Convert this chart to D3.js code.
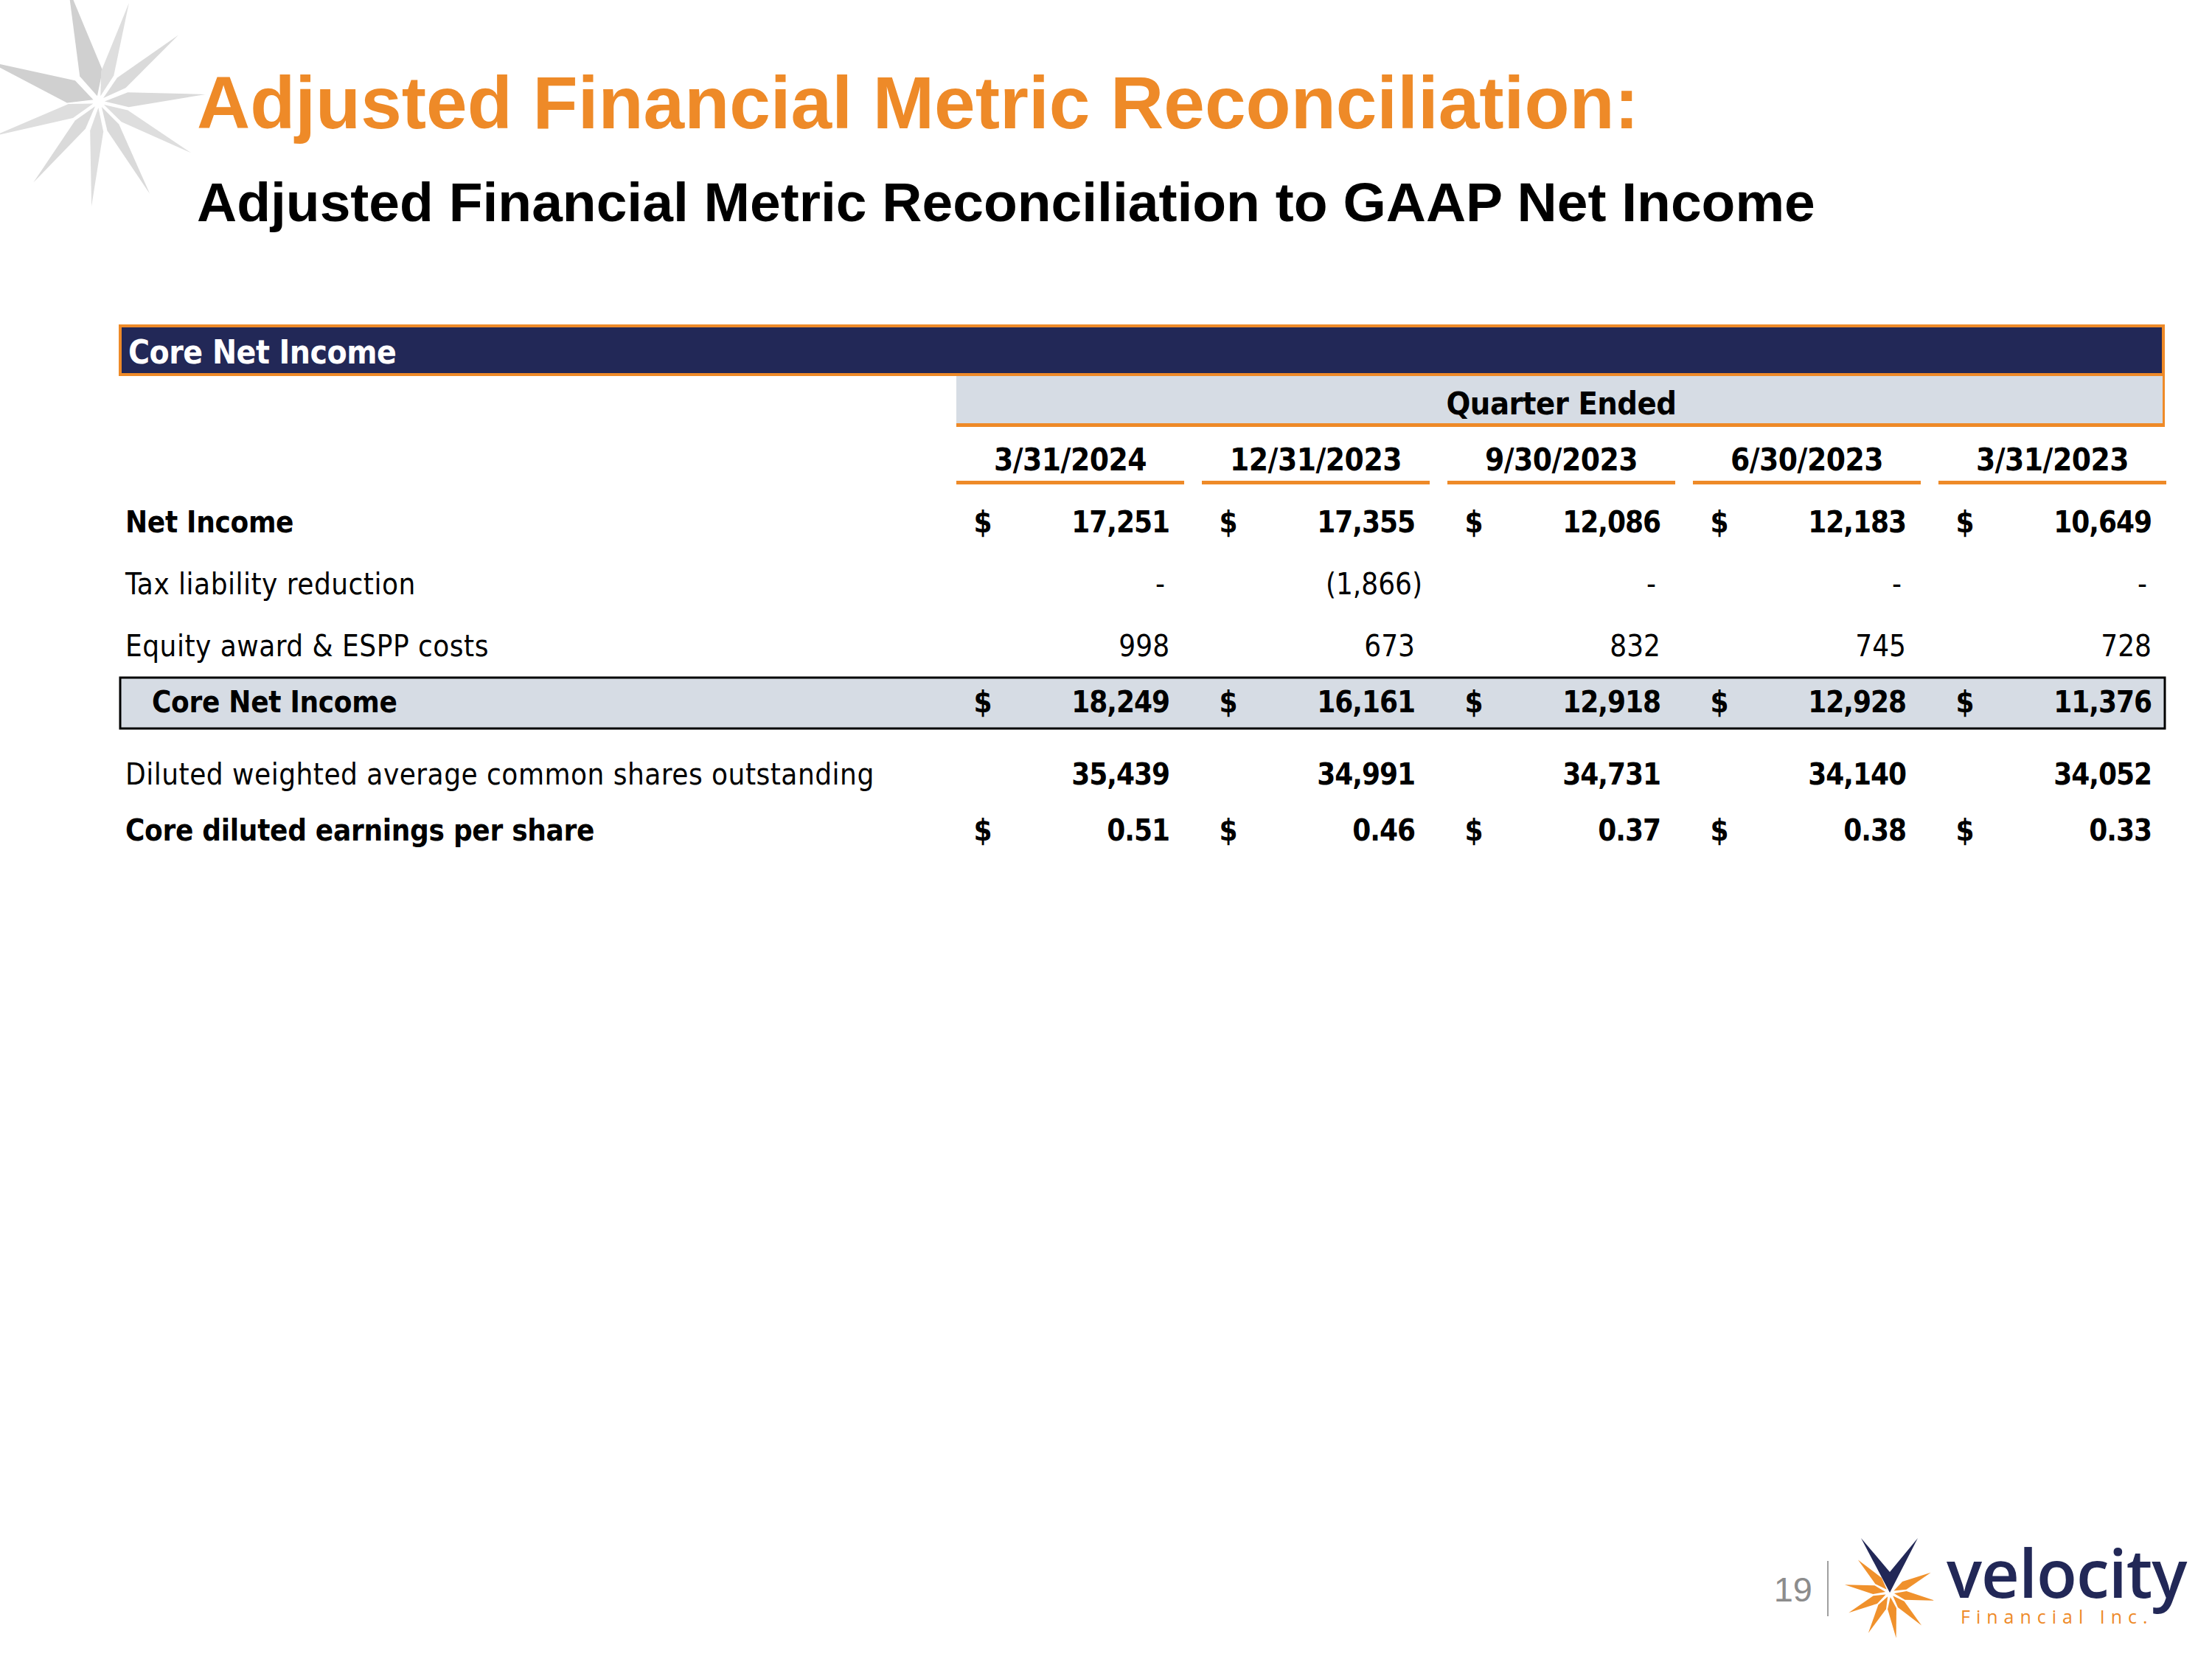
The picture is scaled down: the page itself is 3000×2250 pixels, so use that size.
<!DOCTYPE html>
<html>
<head>
<meta charset="utf-8">
<script src="https://cdn.jsdelivr.net/npm/d3@7"></script>
<style>
  body { margin: 0; background: #fff; }
  .tbl { font-family: "DejaVu Sans Condensed", "DejaVu Sans", sans-serif; font-stretch: condensed; }
</style>
</head>
<body>
<div id="chart"></div>
<script>
var width = 3000, height = 2250;

// table data (in thousands, except per share)
var quarters = ["3/31/2024", "12/31/2023", "9/30/2023", "6/30/2023", "3/31/2023"];
var netIncome = [17251, 17355, 12086, 12183, 10649];
var taxLiabilityReduction = [0, -1866, 0, 0, 0];
var equityAwardCosts = [998, 673, 832, 745, 728];
var coreNetIncome = [18249, 16161, 12918, 12928, 11376];
var dilutedShares = [35439, 34991, 34731, 34140, 34052];
var coreDilutedEps = [0.51, 0.46, 0.37, 0.38, 0.33];

var rowLabels = ["Net Income", "Tax liability reduction", "Equity award & ESPP costs",
  "Core Net Income", "Diluted weighted average common shares outstanding", "Core diluted earnings per share"];

var rows = [
  {key: "ni", label: rowLabels[0], values: netIncome, boldLabel: true, bold: true, dollar: true, fmt: "int"},
  {key: "tax", label: rowLabels[1], values: taxLiabilityReduction, boldLabel: false, bold: false, dollar: false, fmt: "int"},
  {key: "eq", label: rowLabels[2], values: equityAwardCosts, boldLabel: false, bold: false, dollar: false, fmt: "int"},
  {key: "core", label: rowLabels[3], values: coreNetIncome, boldLabel: true, bold: true, dollar: true, fmt: "int", boxed: true},
  {key: "sh", label: rowLabels[4], values: dilutedShares, boldLabel: false, bold: true, dollar: false, fmt: "int"},
  {key: "eps", label: rowLabels[5], values: coreDilutedEps, boldLabel: true, bold: true, dollar: true, fmt: "eps"}
];

var orange = "#EE8A28",
  navy = "#222857",
  bandGrey = "#D6DCE4";

var svg = d3.select("#chart")
  .append("svg")
    .attr("width", width)
    .attr("height", height)
    .style("background", "#fff");

// column + row layout
var x = d3.scaleBand()
  .domain(quarters)
  .range([1297, 2938])
  .paddingInner(0.072)
  .paddingOuter(0);

var rowY = d3.scaleOrdinal()
  .domain(rows.map(function(d) { return d.key; }))
  .range([722, 806, 890, 966, 1064, 1140]);

var fmtInt = d3.format(",.0f"),
  fmtEps = d3.format(".2f");

// ---- decoration: grey star top-left
function rayPath(cx, cy, ang, r0, rMid, r1, hw) {
  var a = ang * Math.PI / 180, c = Math.cos(a), s = Math.sin(a);
  var px = -s, py = c;
  var p = [
    [cx + c * r0, cy + s * r0],
    [cx + c * rMid + px * hw, cy + s * rMid + py * hw],
    [cx + c * r1, cy + s * r1],
    [cx + c * rMid - px * hw, cy + s * rMid - py * hw]
  ];
  return "M" + p.map(function(q) { return q[0].toFixed(1) + "," + q[1].toFixed(1); }).join("L") + "Z";
}

var greyRays = [
  {a: -4, len: 145, w: 10, c: "#dadada"},
  {a: 29, len: 143, w: 9, c: "#dedede"},
  {a: 61, len: 143, w: 9, c: "#dadada"},
  {a: 94, len: 142, w: 9, c: "#dedede"},
  {a: 129, len: 141, w: 9, c: "#dadada"},
  {a: 162, len: 150, w: 10, c: "#dedede"},
  {a: 200, len: 160, w: 16, c: "#d0d0d0"},
  {a: 255, len: 160, w: 16, c: "#d0d0d0"},
  {a: 287, len: 140, w: 9, c: "#dedede"},
  {a: 320, len: 141, w: 9, c: "#dadada"}
];

svg.append("g")
  .attr("class", "grey-star")
  .selectAll("path")
  .data(greyRays)
  .enter().append("path")
    .attr("d", function(d) { return rayPath(134, 138, d.a, 8, 40, d.len, d.w); })
    .attr("fill", function(d) { return d.c; });

// ---- titles
svg.append("text")
  .attr("x", 267)
  .attr("y", 174)
  .attr("font-family", "Liberation Sans, Arial, sans-serif")
  .attr("font-weight", "bold")
  .attr("font-size", 100)
  .attr("fill", orange)
  .text("Adjusted Financial Metric Reconciliation:");

svg.append("text")
  .attr("x", 267)
  .attr("y", 300)
  .attr("font-family", "Liberation Sans, Arial, sans-serif")
  .attr("font-weight", "bold")
  .attr("font-size", 75)
  .attr("fill", "#000")
  .text("Adjusted Financial Metric Reconciliation to GAAP Net Income");

// ---- table
var tbl = svg.append("g").attr("class", "tbl");

tbl.append("rect")
  .attr("x", 163).attr("y", 442)
  .attr("width", 2771).attr("height", 66)
  .attr("fill", navy)
  .attr("stroke", orange)
  .attr("stroke-width", 4);

tbl.append("text")
  .attr("x", 174).attr("y", 493)
  .attr("font-size", 44)
  .attr("font-weight", "bold")
  .attr("letter-spacing", -0.5)
  .attr("fill", "#fff")
  .text(rowLabels[3]);

// quarter ended band
var bandX0 = x(quarters[0]), bandX1 = x(quarters[quarters.length - 1]) + x.bandwidth();

tbl.append("rect")
  .attr("x", bandX0).attr("y", 510)
  .attr("width", bandX1 - bandX0 - 4).attr("height", 64)
  .attr("fill", bandGrey);

tbl.append("rect")
  .attr("x", bandX0).attr("y", 574)
  .attr("width", bandX1 - bandX0 - 2).attr("height", 5)
  .attr("fill", orange);

tbl.append("rect")
  .attr("x", bandX1 - 5).attr("y", 508)
  .attr("width", 3).attr("height", 71)
  .attr("fill", orange);

tbl.append("text")
  .attr("x", (bandX0 + bandX1) / 2).attr("y", 562)
  .attr("text-anchor", "middle")
  .attr("font-size", 43)
  .attr("font-weight", "bold")
  .attr("letter-spacing", -0.5)
  .text("Quarter Ended");

// date headers
var cols = tbl.append("g").selectAll("g")
  .data(quarters)
  .enter().append("g");

cols.append("text")
  .attr("x", function(d) { return x(d) + x.bandwidth() / 2; })
  .attr("y", 638)
  .attr("text-anchor", "middle")
  .attr("font-size", 42)
  .attr("font-weight", "bold")
  .attr("letter-spacing", -0.5)
  .text(function(d) { return d; });

cols.append("rect")
  .attr("x", function(d) { return x(d); })
  .attr("y", 652)
  .attr("width", x.bandwidth())
  .attr("height", 5)
  .attr("fill", orange);

// core net income highlight box
tbl.append("rect")
  .attr("x", 163).attr("y", 919)
  .attr("width", bandX1 - 2 - 163).attr("height", 69)
  .attr("fill", bandGrey)
  .attr("stroke", "#000")
  .attr("stroke-width", 3);

var row = tbl.append("g").selectAll("g")
  .data(rows)
  .enter().append("g")
    .attr("transform", function(d) { return "translate(0," + rowY(d.key) + ")"; })
    .attr("font-size", 40);

row.append("text")
  .attr("x", function(d) { return d.boxed ? 206 : 170; })
  .attr("font-weight", function(d) { return d.boldLabel ? "bold" : "normal"; })
  .attr("letter-spacing", function(d) { return d.boldLabel ? -0.3 : 0.5; })
  .text(function(d) { return d.label; });

var cells = row.selectAll(".cell")
  .data(function(d) {
    return d.values.map(function(v, i) { return {v: v, q: quarters[i], row: d}; });
  })
  .enter().append("g")
    .attr("class", "cell")
    .attr("font-weight", function(d) { return d.row.bold ? "bold" : "normal"; });

cells.filter(function(d) { return d.row.dollar; })
  .append("text")
  .attr("x", function(d) { return x(d.q) + 36; })
  .attr("text-anchor", "middle")
  .text("$");

cells.append("text")
  .attr("x", function(d) {
    var right = x(d.q) + x.bandwidth();
    if (d.v === 0) return right - 26;
    if (d.v < 0) return right - 10;
    return right - 20;
  })
  .attr("text-anchor", "end")
  .attr("letter-spacing", function(d) { return d.row.bold ? -1 : 0; })
  .text(function(d) {
    if (d.v === 0) return "-";
    if (d.row.fmt === "eps") return fmtEps(d.v);
    if (d.v < 0) return "(" + fmtInt(-d.v) + ")";
    return fmtInt(d.v);
  });

// ---- footer: page number + logo
svg.append("text")
  .attr("x", 2458).attr("y", 2172)
  .attr("text-anchor", "end")
  .attr("font-family", "Liberation Sans, Arial, sans-serif")
  .attr("font-size", 47)
  .attr("fill", "#8c8c8c")
  .text("19");

svg.append("line")
  .attr("x1", 2479).attr("x2", 2479)
  .attr("y1", 2117).attr("y2", 2192)
  .attr("stroke", "#a0a0a0")
  .attr("stroke-width", 2);

var logoRays = [0, 36, 72, 108, 144, 180, 216, 324];
svg.append("g")
  .selectAll("path")
  .data(logoRays)
  .enter().append("path")
    .attr("d", function(d) { return rayPath(2563, 2160, d + 10, 6, 22, 62, 6); })
    .attr("fill", "#F0912C");

svg.append("path")
  .attr("d", "M2524,2086L2563,2160L2601,2086L2563,2132Z")
  .attr("fill", navy);

svg.append("text")
  .attr("x", 2640).attr("y", 2167)
  .attr("font-family", "Open Sans, sans-serif")
  .attr("font-size", 90)
  .attr("font-weight", 600)
  .attr("letter-spacing", -1)
  .attr("fill", navy)
  .text("velocity");

svg.append("text")
  .attr("x", 2659).attr("y", 2202)
  .attr("font-family", "Open Sans, sans-serif")
  .attr("font-size", 25)
  .attr("letter-spacing", 8)
  .attr("fill", orange)
  .text("Financial Inc.");
</script>
</body>
</html>
